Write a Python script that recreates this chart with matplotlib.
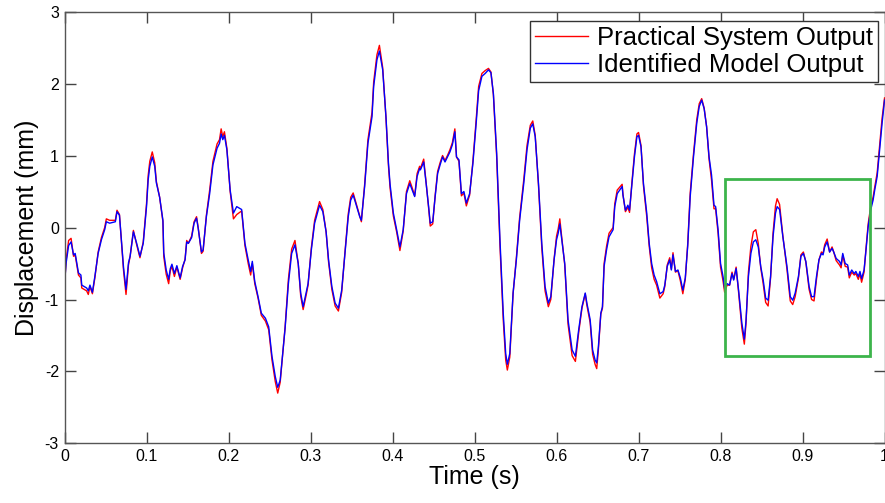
import matplotlib
matplotlib.use('Agg')
import matplotlib.pyplot as plt
from matplotlib.patches import Rectangle

plt.rcParams['font.family'] = ['Liberation Sans', 'DejaVu Sans']
plt.rcParams['axes.unicode_minus'] = False

# time samples (s)
t = [0.000, 0.002, 0.005, 0.008, 0.011, 0.013, 0.017, 0.020, 0.021, 0.027,
     0.029, 0.031, 0.034, 0.037, 0.041, 0.045, 0.049, 0.051, 0.055, 0.062,
     0.064, 0.067, 0.070, 0.072, 0.075, 0.078, 0.080, 0.084, 0.088, 0.092,
     0.096, 0.100, 0.102, 0.104, 0.107, 0.110, 0.112, 0.116, 0.120, 0.121,
     0.124, 0.127, 0.129, 0.131, 0.134, 0.137, 0.141, 0.144, 0.147, 0.149,
     0.151, 0.155, 0.158, 0.161, 0.163, 0.167, 0.169, 0.173, 0.177, 0.181,
     0.186, 0.189, 0.191, 0.193, 0.195, 0.198, 0.202, 0.206, 0.210, 0.216,
     0.220, 0.224, 0.227, 0.229, 0.232, 0.236, 0.240, 0.245, 0.249, 0.253,
     0.257, 0.260, 0.263, 0.269, 0.273, 0.277, 0.281, 0.285, 0.288, 0.291,
     0.295, 0.297, 0.301, 0.305, 0.311, 0.315, 0.319, 0.322, 0.326, 0.330,
     0.334, 0.338, 0.342, 0.346, 0.349, 0.352, 0.355, 0.360, 0.362, 0.366,
     0.370, 0.375, 0.377, 0.381, 0.384, 0.388, 0.392, 0.395, 0.397, 0.401,
     0.405, 0.409, 0.413, 0.417, 0.421, 0.424, 0.427, 0.430, 0.433, 0.434,
     0.438, 0.441, 0.444, 0.446, 0.449, 0.452, 0.455, 0.458, 0.461, 0.464,
     0.467, 0.470, 0.473, 0.476, 0.478, 0.481, 0.484, 0.487, 0.490, 0.494,
     0.498, 0.502, 0.505, 0.509, 0.513, 0.517, 0.520, 0.523, 0.527, 0.531,
     0.535, 0.538, 0.540, 0.543, 0.547, 0.551, 0.555, 0.560, 0.564, 0.568,
     0.571, 0.574, 0.578, 0.582, 0.586, 0.590, 0.593, 0.597, 0.600, 0.602,
     0.604, 0.606, 0.610, 0.614, 0.619, 0.623, 0.627, 0.631, 0.635, 0.637,
     0.641, 0.644, 0.647, 0.649, 0.651, 0.654, 0.656, 0.658, 0.661, 0.664,
     0.669, 0.671, 0.674, 0.677, 0.680, 0.681, 0.684, 0.687, 0.689, 0.692,
     0.695, 0.698, 0.700, 0.703, 0.706, 0.710, 0.713, 0.716, 0.719, 0.722,
     0.726, 0.730, 0.732, 0.735, 0.738, 0.740, 0.742, 0.745, 0.748, 0.751,
     0.754, 0.757, 0.760, 0.763, 0.767, 0.771, 0.774, 0.777, 0.780, 0.783,
     0.786, 0.789, 0.792, 0.794, 0.797, 0.800, 0.803, 0.805, 0.808, 0.811,
     0.814, 0.816, 0.819, 0.822, 0.826, 0.829, 0.831, 0.834, 0.837, 0.840,
     0.843, 0.846, 0.849, 0.852, 0.855, 0.858, 0.861, 0.864, 0.867, 0.869,
     0.872, 0.876, 0.881, 0.885, 0.888, 0.891, 0.895, 0.898, 0.901, 0.904,
     0.908, 0.911, 0.914, 0.917, 0.920, 0.923, 0.925, 0.927, 0.930, 0.933,
     0.936, 0.938, 0.941, 0.945, 0.947, 0.949, 0.952, 0.955, 0.957, 0.960,
     0.963, 0.965, 0.968, 0.970, 0.972, 0.975, 0.977, 0.980, 0.983, 0.986,
     0.988, 0.991, 0.994, 0.997, 1.000]

# identified model output (mm)
model = [-0.78, -0.49, -0.25, -0.20, -0.38, -0.36, -0.63, -0.66, -0.80, -0.84,
         -0.88, -0.80, -0.90, -0.68, -0.36, -0.17, -0.03, 0.08, 0.06, 0.08,
         0.22, 0.17, -0.27, -0.56, -0.86, -0.49, -0.40, -0.06, -0.22, -0.40,
         -0.22, 0.29, 0.66, 0.85, 0.98, 0.85, 0.62, 0.42, 0.10, -0.35,
         -0.59, -0.72, -0.57, -0.51, -0.64, -0.53, -0.70, -0.54, -0.45, -0.20,
         -0.22, -0.14, 0.06, 0.13, -0.01, -0.34, -0.31, 0.15, 0.47, 0.87,
         1.10, 1.17, 1.30, 1.22, 1.28, 1.08, 0.52, 0.20, 0.29, 0.25,
         -0.22, -0.45, -0.61, -0.47, -0.75, -0.96, -1.19, -1.26, -1.38, -1.79,
         -2.07, -2.22, -2.12, -1.40, -0.78, -0.36, -0.24, -0.50, -0.91, -1.10,
         -0.89, -0.78, -0.31, 0.06, 0.31, 0.22, -0.06, -0.45, -0.82, -1.05,
         -1.12, -0.87, -0.36, 0.15, 0.38, 0.45, 0.34, 0.15, 0.10, 0.57,
         1.17, 1.54, 1.96, 2.33, 2.45, 2.19, 1.54, 0.90, 0.60, 0.20,
         -0.03, -0.27, -0.03, 0.47, 0.61, 0.52, 0.43, 0.71, 0.82, 0.80,
         0.91, 0.61, 0.29, 0.06, 0.08, 0.43, 0.75, 0.87, 0.98, 0.91,
         0.98, 1.05, 1.15, 1.33, 0.98, 0.94, 0.47, 0.50, 0.34, 0.47,
         0.89, 1.45, 1.90, 2.10, 2.14, 2.19, 2.15, 1.86, 1.03, -0.17,
         -1.19, -1.75, -1.90, -1.75, -0.91, -0.45, 0.10, 0.61, 1.08, 1.38,
         1.44, 1.26, 0.61, -0.22, -0.82, -1.05, -0.96, -0.45, -0.17, -0.08,
         0.05, -0.13, -0.50, -1.28, -1.70, -1.79, -1.42, -1.10, -0.91, -1.05,
         -1.28, -1.70, -1.84, -1.88, -1.66, -1.19, -1.10, -0.54, -0.31, -0.13,
         -0.03, 0.29, 0.47, 0.52, 0.57, 0.45, 0.24, 0.31, 0.24, 0.61,
         0.98, 1.26, 1.28, 1.12, 0.61, 0.20, -0.22, -0.50, -0.66, -0.75,
         -0.92, -0.89, -0.80, -0.54, -0.45, -0.59, -0.38, -0.61, -0.59, -0.70,
         -0.87, -0.70, -0.25, 0.43, 0.98, 1.45, 1.68, 1.77, 1.65, 1.40,
         0.98, 0.73, 0.31, 0.29, -0.03, -0.50, -0.68, -0.85, -0.78, -0.80,
         -0.64, -0.73, -0.57, -0.87, -1.33, -1.55, -1.30, -0.68, -0.36, -0.20,
         -0.17, -0.27, -0.54, -0.73, -0.98, -1.01, -0.68, -0.13, 0.20, 0.29,
         0.25, -0.13, -0.54, -0.96, -1.01, -0.91, -0.68, -0.40, -0.36, -0.47,
         -0.82, -0.96, -0.96, -0.68, -0.45, -0.36, -0.38, -0.27, -0.20, -0.34,
         -0.29, -0.34, -0.43, -0.47, -0.52, -0.36, -0.50, -0.52, -0.66, -0.59,
         -0.64, -0.61, -0.68, -0.61, -0.71, -0.59, -0.36, 0.01, 0.24, 0.38,
         0.52, 0.71, 1.08, 1.45, 1.77]

# practical system output (mm)
system = [-0.80, -0.45, -0.18, -0.15, -0.40, -0.38, -0.66, -0.70, -0.84, -0.88,
          -0.93, -0.82, -0.92, -0.70, -0.34, -0.14, 0.00, 0.12, 0.10, 0.10,
          0.24, 0.18, -0.30, -0.60, -0.93, -0.52, -0.40, -0.04, -0.24, -0.42,
          -0.20, 0.33, 0.72, 0.92, 1.05, 0.90, 0.64, 0.42, 0.08, -0.40,
          -0.65, -0.78, -0.60, -0.54, -0.68, -0.55, -0.72, -0.56, -0.44, -0.18,
          -0.22, -0.12, 0.08, 0.15, 0.00, -0.36, -0.33, 0.17, 0.52, 0.92,
          1.16, 1.22, 1.37, 1.26, 1.33, 1.10, 0.50, 0.12, 0.18, 0.23,
          -0.25, -0.50, -0.66, -0.50, -0.78, -0.98, -1.22, -1.30, -1.42, -1.84,
          -2.14, -2.30, -2.15, -1.38, -0.72, -0.30, -0.18, -0.50, -0.95, -1.14,
          -0.92, -0.80, -0.28, 0.10, 0.36, 0.25, -0.06, -0.48, -0.86, -1.09,
          -1.16, -0.90, -0.34, 0.19, 0.42, 0.48, 0.36, 0.16, 0.08, 0.60,
          1.22, 1.60, 2.02, 2.40, 2.53, 2.22, 1.52, 0.86, 0.55, 0.16,
          -0.06, -0.32, -0.05, 0.50, 0.65, 0.55, 0.44, 0.75, 0.85, 0.82,
          0.95, 0.62, 0.27, 0.02, 0.05, 0.45, 0.78, 0.90, 1.00, 0.93,
          1.00, 1.08, 1.18, 1.37, 0.98, 0.92, 0.44, 0.48, 0.30, 0.45,
          0.92, 1.50, 1.96, 2.14, 2.18, 2.21, 2.16, 1.84, 0.98, -0.25,
          -1.28, -1.84, -1.98, -1.80, -0.92, -0.42, 0.14, 0.66, 1.14, 1.42,
          1.48, 1.28, 0.58, -0.28, -0.88, -1.10, -1.00, -0.44, -0.12, -0.02,
          0.12, -0.10, -0.52, -1.34, -1.78, -1.86, -1.46, -1.12, -0.92, -1.08,
          -1.32, -1.76, -1.90, -1.96, -1.70, -1.20, -1.12, -0.50, -0.26, -0.08,
          0.00, 0.33, 0.52, 0.56, 0.60, 0.46, 0.22, 0.28, 0.21, 0.64,
          1.02, 1.30, 1.32, 1.14, 0.58, 0.15, -0.26, -0.56, -0.72, -0.80,
          -0.98, -0.92, -0.82, -0.52, -0.42, -0.58, -0.35, -0.62, -0.60, -0.74,
          -0.92, -0.72, -0.22, 0.48, 1.02, 1.50, 1.72, 1.79, 1.66, 1.40,
          0.95, 0.66, 0.26, 0.26, -0.08, -0.55, -0.74, -0.90, -0.80, -0.80,
          -0.62, -0.72, -0.55, -0.90, -1.40, -1.62, -1.34, -0.62, -0.26, -0.06,
          -0.03, -0.22, -0.56, -0.78, -1.04, -1.09, -0.70, -0.08, 0.30, 0.40,
          0.32, -0.12, -0.58, -1.02, -1.07, -0.96, -0.70, -0.38, -0.34, -0.48,
          -0.86, -1.00, -1.02, -0.72, -0.45, -0.34, -0.36, -0.24, -0.16, -0.34,
          -0.27, -0.34, -0.46, -0.52, -0.56, -0.38, -0.54, -0.55, -0.70, -0.62,
          -0.66, -0.64, -0.72, -0.64, -0.76, -0.62, -0.34, 0.05, 0.28, 0.42,
          0.56, 0.76, 1.14, 1.52, 1.80]

ticks_x = [0, 0.1, 0.2, 0.3, 0.4, 0.5, 0.6, 0.7, 0.8, 0.9, 1]
ticks_y = [-3, -2, -1, 0, 1, 2, 3]

fig = plt.figure(figsize=(8.85, 5.03), dpi=100)
ax = fig.add_axes([0.0729, 0.1183, 0.9266, 0.8588])

ax.plot(t, system, color='red', linewidth=1.0, label='Practical System Output')
ax.plot(t, model, color='blue', linewidth=1.0, label='Identified Model Output')

# zoom-in region marker
ax.add_patch(Rectangle((0.805, -1.79), 0.177, 2.46, fill=False,
                       edgecolor='#3cb44b', linewidth=2.0, zorder=3))

ax.set_xlim(0, 1)
ax.set_ylim(-3, 3)
ax.set_xticks(ticks_x)
ax.set_xticklabels(['0', '0.1', '0.2', '0.3', '0.4', '0.5', '0.6', '0.7', '0.8', '0.9', '1'])
ax.set_yticks(ticks_y)
ax.tick_params(direction='in', length=8, width=1, colors='#444444', labelcolor='black',
               labelsize=11.5, top=True, right=True, pad=4)
for s in ax.spines.values():
    s.set_color('#555555')
    s.set_linewidth(1.0)

ax.set_xlabel('Time (s)', fontsize=18, labelpad=1)
ax.set_ylabel('Displacement (mm)', fontsize=18, labelpad=4)

leg = ax.legend(loc='upper right', bbox_to_anchor=(0.992, 0.978), fontsize=18.5,
                frameon=True, fancybox=False, framealpha=1, edgecolor='#333333',
                handlelength=2.05, handletextpad=0.35, borderpad=0.2,
                labelspacing=0.1, borderaxespad=0)
leg.get_frame().set_linewidth(1.0)

fig.savefig('out.png', dpi=100)
